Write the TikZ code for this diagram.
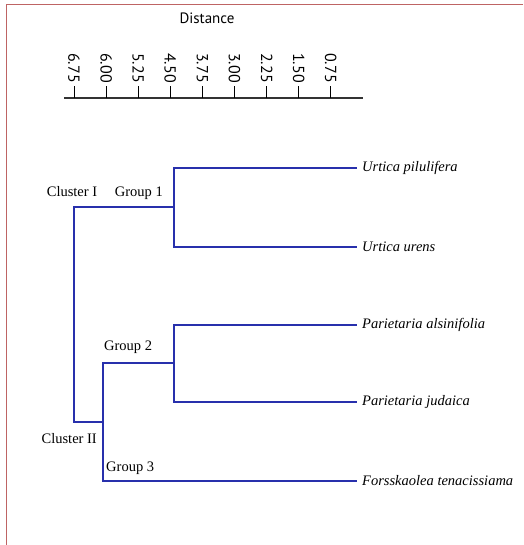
\documentclass[tikz,border=0pt]{standalone}
\usepackage{fontspec}
\setmainfont{Liberation Serif}
\newfontfamily\axisfont{PT Sans}
\usetikzlibrary{positioning}
\definecolor{treeblue}{RGB}{40,48,172}
\definecolor{framered}{RGB}{190,100,100}
\tikzset{
        x=1pt, y=1pt, % one unit is one pixel of the original
        branch/.style={draw=treeblue, line width=1.8pt, line cap=rect}, % lines of the tree
        species/.style={anchor=west, inner xsep=6pt, inner ysep=0pt,
                        font=\itshape\fontsize{14.5}{16}\selectfont}, % leaf names
        grouplabel/.style={inner sep=0pt, font=\fontsize{14.5}{16}\selectfont}, % cluster and group names
        ticklabel/.style={anchor=west, rotate=-90, inner sep=0pt,
                          font=\axisfont\fontsize{16}{18}\selectfont},
    }

\begin{document}
\begin{tikzpicture}
    \useasboundingbox (0,0) rectangle (523,545);
    \draw[framered, line width=1pt] (523,540) -- (6,540) -- (6,0);

    % distance scale
    \node[font=\axisfont\fontsize{15}{17}\selectfont] (dist) at (207,527) {Distance};
    \coordinate (axl) at (64,447);
    \coordinate (axr) at (363,447);
    \draw[line width=1.5pt, black!80] (axl) -- (axr);
    \foreach \d [count=\i from 0] in {6.75,6.00,5.25,4.50,3.75,3.00,2.25,1.50,0.75} {
      \coordinate (tk\i) at ({74+32.1*\i},447);
      \node[ticklabel] (lbl\i) at ({74+32.1*\i},492) {\d};
      \draw[line width=1pt] (tk\i) -- ++(0,12);
    }

    % leaves
    \node[species] (up) at (356,377) {Urtica pilulifera};
    \node[species] (ur) at (356,298) {Urtica urens};
    \node[species] (pa) at (356,220) {Parietaria alsinifolia};
    \node[species] (pj) at (356,143) {Parietaria judaica};
    \node[species] (ft) at (356,64)  {Forsskaolea tenacissiama};

    % joins
    \coordinate (g1) at (174,338);
    \coordinate (g2) at (174,182);
    \coordinate (g23) at (103,123);
    \coordinate (root) at (74,230);

    \draw[branch] (g1) |- (up.west);
    \draw[branch] (g1) |- (ur.west);
    \draw[branch] (g2) |- (pa.west);
    \draw[branch] (g2) |- (pj.west);
    \draw[branch] (g23) |- (g2);
    \draw[branch] (g23) |- (ft.west);
    \draw[branch] (root) |- (g1);
    \draw[branch] (root) |- (g23);

    % cluster and group names
    \coordinate (c1) at (72,338);
    \coordinate (k2) at (103,182);
    \coordinate (k3) at (103,64);
    \node[grouplabel, above=10pt of c1] (cl1) {Cluster I};
    \node[grouplabel, above left=7pt and 11pt of g1] (gr1) {Group 1};
    \node[grouplabel, above right=9pt and 1pt of k2] (gr2) {Group 2};
    \node[grouplabel, below left=11pt and 6pt of g23] (cl2) {Cluster II};
    \node[grouplabel, above right=6pt and 3pt of k3] (gr3) {Group 3};
  \end{tikzpicture}
\end{document}
